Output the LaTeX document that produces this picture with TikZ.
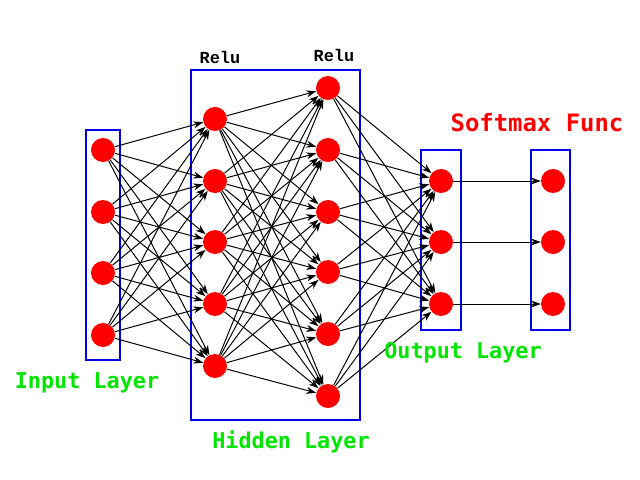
\documentclass[tikz,border=0pt]{standalone}
\usepackage{fontspec}
\usepackage{xcolor}
\usetikzlibrary{arrows.meta}
\newfontfamily\relufont{Liberation Mono}
\newfontfamily\layerfont{DejaVu Sans Mono}
\definecolor{nnred}{RGB}{255,0,0}
\definecolor{nnblue}{RGB}{0,0,230}
\definecolor{nngreen}{RGB}{0,230,0}

\begin{document}
\begin{tikzpicture}[x=0.025cm,y=-0.025cm,
	neuron/.style={circle,fill=nnred,minimum size=0.6cm,inner sep=0pt},
	layerbox/.style={draw=nnblue,line width=2pt},
	wire/.style={-{Stealth[length=7pt,width=5pt]},line width=0.7pt},
	layername/.style={text=nngreen,font=\layerfont\bfseries\fontsize{15.5}{16}\selectfont},
	relu/.style={font=\relufont\bfseries\fontsize{12}{13}\selectfont}]
	\useasboundingbox (0,0) rectangle (640,480);

	\draw[layerbox] (86,130) rectangle (120,360);
	\draw[layerbox] (191,70) rectangle (360,420);
	\draw[layerbox] (421,150) rectangle (461,330);
	\draw[layerbox] (531,150) rectangle (570,330);

	% input layer
	\node[neuron] (I1) at (103,150) {};
	\node[neuron] (I2) at (103,212) {};
	\node[neuron] (I3) at (103,273) {};
	\node[neuron] (I4) at (103,335) {};

	% hidden layers
	\node[neuron] (A1) at (215,119) {};
	\node[neuron] (A2) at (215,181) {};
	\node[neuron] (A3) at (215,242) {};
	\node[neuron] (A4) at (215,304) {};
	\node[neuron] (A5) at (215,366) {};

	\node[neuron] (B1) at (328,88) {};
	\node[neuron] (B2) at (328,150) {};
	\node[neuron] (B3) at (328,212) {};
	\node[neuron] (B4) at (328,272) {};
	\node[neuron] (B5) at (328,334) {};
	\node[neuron] (B6) at (328,396) {};

	% output and softmax
	\node[neuron] (O1) at (441,181) {};
	\node[neuron] (O2) at (441,242) {};
	\node[neuron] (O3) at (441,304) {};

	\node[neuron] (S1) at (553,181) {};
	\node[neuron] (S2) at (553,242) {};
	\node[neuron] (S3) at (553,304) {};

	\foreach \i in {1,...,4}
		\foreach \j in {1,...,5}
			\draw[wire] (I\i) -- (A\j);
	\foreach \i in {1,...,5}
		\foreach \j in {1,...,6}
			\draw[wire] (A\i) -- (B\j);
	\foreach \i in {1,...,6}
		\foreach \j in {1,...,3}
			\draw[wire] (B\i) -- (O\j);
	\foreach \i in {1,...,3}
		\draw[wire] (O\i) -- (S\i);

	\node[relu] (reluA) at (220,57) {Relu};
	\node[relu] (reluB) at (334,55) {Relu};
	\node[text=nnred,font=\layerfont\bfseries\fontsize{17}{18}\selectfont] (softlbl) at (537,123) {Softmax Func};
	\node[layername] (inlbl) at (87,383) {Input Layer};
	\node[layername] (hidlbl) at (291,442) {Hidden Layer};
	\node[layername] (outlbl) at (463,353) {Output Layer};

\end{tikzpicture}
\end{document}
